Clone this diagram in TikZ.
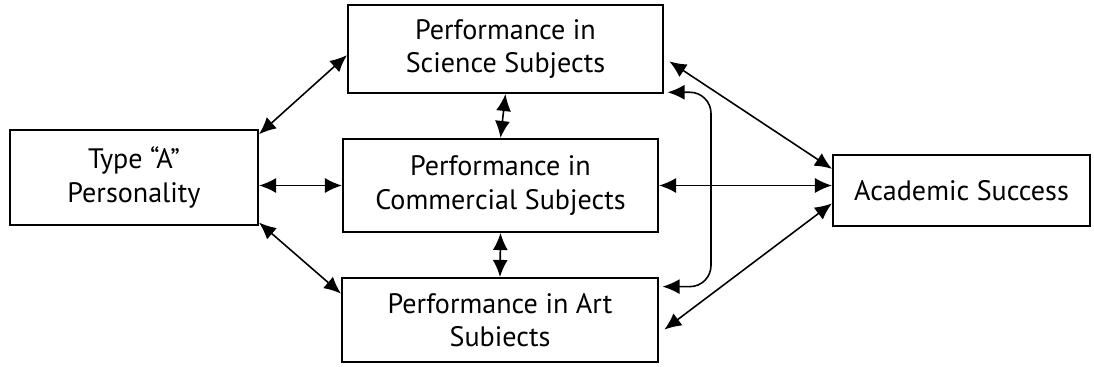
\documentclass[tikz,border=0pt]{standalone}
\usepackage{fontspec}
\setmainfont{PT Sans}
\usetikzlibrary{positioning, arrows.meta}

\begin{document}
\begin{tikzpicture}[x=0.02cm, y=-0.02cm,
        box/.style={draw, line width=1.2pt, inner sep=0pt, align=center,
            font=\fontsize{16}{19}\selectfont},
        link/.style={{Latex[length=3.4mm,width=3mm]}-{Latex[length=3.4mm,width=3mm]}, line width=0.9pt}]
            \useasboundingbox (0,0) rectangle (1094,367);
            \node[box, minimum width=4.96cm, minimum height=1.9cm] (typeA) at (134,177.5) {Type “A”\\Personality};
            \node[box, minimum width=6.3cm, minimum height=1.76cm] (sci) at (505.5,49) {Performance in\\Science Subjects};
            \node[box, minimum width=6.3cm, minimum height=1.86cm] (com) at (500.5,185.5) {Performance in\\Commercial Subjects};
            \node[box, minimum width=6.32cm, minimum height=1.68cm] (art) at (500,320) {Performance in Art\\Subiects};
            \node[box, minimum width=5.14cm, minimum height=1.42cm] (success) at (961.5,190.5) {Academic Success};
            \coordinate (bend) at (711,185);
            % personality to the three subject groups
            \draw[link] ([yshift=-3pt]typeA.north east) -- ([yshift=-3.5pt]sci.west);
            \draw[link] (typeA.east |- com.west) -- (com.west);
            \draw[link] ([yshift=2pt]typeA.south east) -- ([yshift=-9.5pt]art.north west);
            % between subject groups
            \draw[link] (sci.south) -- (com.north);
            \draw[link] (com.south) -- (art.north);
            \draw[link, rounded corners=12pt] ([xshift=2pt,yshift=1pt]sci.south east) -| (bend) |- ([xshift=2pt,yshift=-5.5pt]art.north east);
            % subject groups to success
            \draw[link] ([xshift=3pt,yshift=-7pt]sci.east) -- ([yshift=-8.5pt]success.north west);
            \draw[link] (com.east) -- (success.west |- com.east);
            \draw[link] ([xshift=3pt,yshift=-5.5pt]art.east) -- ([yshift=13.5pt]success.south west);
        \end{tikzpicture}
\end{document}
